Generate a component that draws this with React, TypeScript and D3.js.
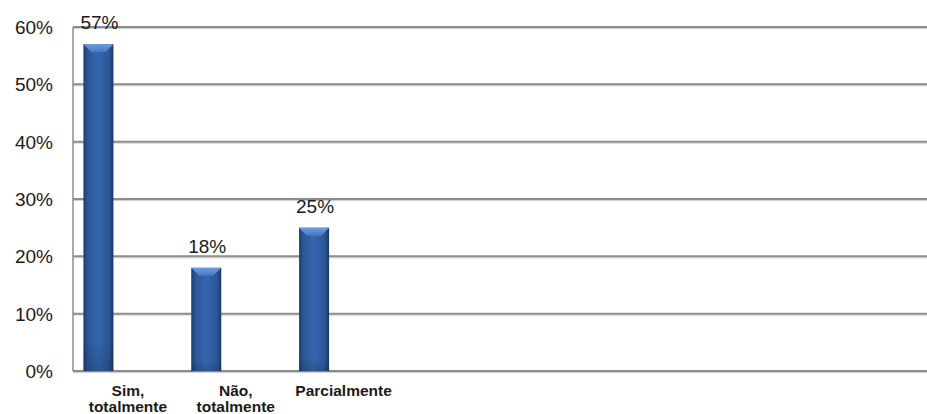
import React from "react";
import * as d3 from "d3";

const categories = ["Sim, totalmente", "Não, totalmente", "Parcialmente"];
const labelLines = [["Sim,", "totalmente"], ["Não,", "totalmente"], ["Parcialmente"]];
const values = [57, 18, 25];
const yTicks = [0, 10, 20, 30, 40, 50, 60];

const W = 927;
const H = 414;
const left = 73;
const right = 927;
const top = 27;
const bottom = 371;

export default function App() {
  const y = d3.scaleLinear().domain([0, 60]).range([bottom, top]);
  const x = d3.scaleBand<string>().domain(categories).range([44.5, 368]).paddingInner(0).paddingOuter(0);
  const barW = 30;
  const font = "'Liberation Sans', Arial, sans-serif";
  return (
    <svg width={W} height={H} style={{ position: "absolute", left: 0, top: 0, background: "#fff" }}>
      <defs>
        <linearGradient id="barH" x1="0" x2="1" y1="0" y2="0">
          <stop offset="0" stopColor="#1d3c6e" />
          <stop offset="0.15" stopColor="#2c5797" />
          <stop offset="0.5" stopColor="#3566ad" />
          <stop offset="0.85" stopColor="#2c5797" />
          <stop offset="1" stopColor="#1b3866" />
        </linearGradient>
        <linearGradient id="barV" x1="0" x2="0" y1="0" y2="1">
          <stop offset="0" stopColor="#000" stopOpacity="0" />
          <stop offset="0.9" stopColor="#000" stopOpacity="0" />
          <stop offset="1" stopColor="#000" stopOpacity="0.15" />
        </linearGradient>
        <linearGradient id="bevel" x1="0" x2="0" y1="0" y2="1">
          <stop offset="0" stopColor="#6e9ee0" />
          <stop offset="1" stopColor="#4677c0" />
        </linearGradient>
      </defs>
      {yTicks.map((t) => (
        <g key={t}>
          <line x1={left} x2={right} y1={y(t) + 1.5} y2={y(t) + 1.5} stroke="#cfcfcf" strokeWidth={1} />
          <line x1={left} x2={right} y1={y(t)} y2={y(t)} stroke="#8c8c8c" strokeWidth={2} />
          <text x={53} y={y(t) + 7} textAnchor="end" fontFamily={font} fontSize={19} fill="#1a1a1a">
            {t}%
          </text>
        </g>
      ))}
      <line x1={left} x2={left} y1={top} y2={bottom} stroke="#8c8c8c" strokeWidth={1.5} />
      {categories.map((c, i) => {
        const cx = (x(c) as number) + x.bandwidth() / 2;
        const x0 = cx - barW / 2;
        const y0 = y(values[i]);
        const h = bottom - y0;
        const bv = 8;
        return (
          <g key={c}>
            <rect x={x0} y={y0} width={barW} height={h} fill="url(#barH)" />
            <rect x={x0} y={y0} width={barW} height={h} fill="url(#barV)" />
            <polygon
              points={`${x0},${y0} ${x0 + barW},${y0} ${x0 + barW - bv},${y0 + bv} ${x0 + bv},${y0 + bv}`}
              fill="url(#bevel)"
            />
            <text x={cx + 1} y={y0 - 15} textAnchor="middle" fontFamily={font} fontSize={19} fill="#1a1a1a">
              {values[i]}%
            </text>
            {labelLines[i].map((ln, j) => (
              <text
                key={j}
                x={cx + 29.5}
                y={396 + j * 15.5}
                textAnchor="middle"
                fontFamily={font}
                fontSize={15.5}
                fontWeight="bold"
                fill="#1a1a1a"
              >
                {ln}
              </text>
            ))}
          </g>
        );
      })}
    </svg>
  );
}
